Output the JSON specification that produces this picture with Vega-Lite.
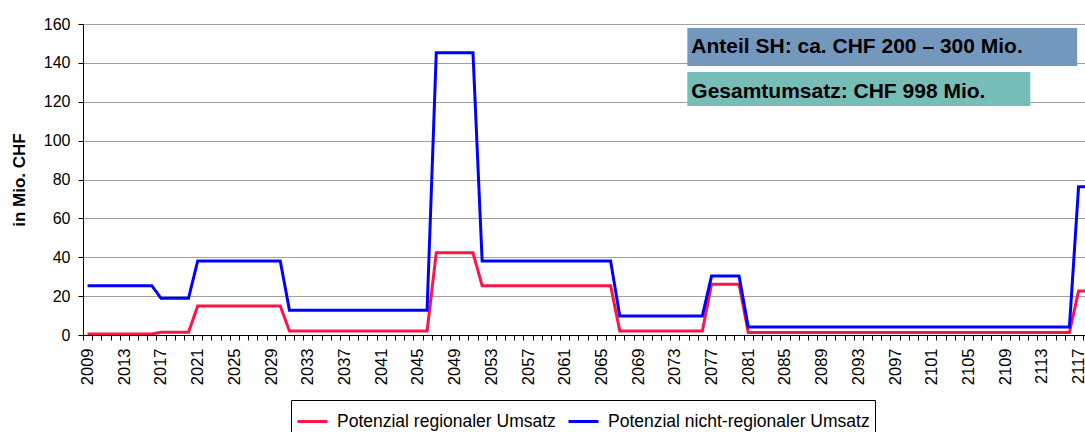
{
  "$schema": "https://vega.github.io/schema/vega-lite/v6.json",
  "width": 1002,
  "height": 311,
  "autosize": "none",
  "padding": {"left": 83, "top": 24, "right": 0, "bottom": 97},
  "background": "white",
  "config": {"view": {"stroke": null}, "font": "Liberation Sans"},
  "datasets": {
    "umsatz": [
      {"Jahr": 2009, "r": 0.5, "n": 25.4}, {"Jahr": 2010, "r": 0.5, "n": 25.4}, {"Jahr": 2011, "r": 0.5, "n": 25.4}, {"Jahr": 2012, "r": 0.5, "n": 25.4},
      {"Jahr": 2013, "r": 0.5, "n": 25.4}, {"Jahr": 2014, "r": 0.5, "n": 25.4}, {"Jahr": 2015, "r": 0.5, "n": 25.4}, {"Jahr": 2016, "r": 0.5, "n": 25.4},
      {"Jahr": 2017, "r": 1.4, "n": 18.9}, {"Jahr": 2018, "r": 1.4, "n": 18.9}, {"Jahr": 2019, "r": 1.4, "n": 18.9}, {"Jahr": 2020, "r": 1.4, "n": 18.9},
      {"Jahr": 2021, "r": 14.9, "n": 38.1}, {"Jahr": 2022, "r": 14.9, "n": 38.1}, {"Jahr": 2023, "r": 14.9, "n": 38.1}, {"Jahr": 2024, "r": 14.9, "n": 38.1},
      {"Jahr": 2025, "r": 14.9, "n": 38.1}, {"Jahr": 2026, "r": 14.9, "n": 38.1}, {"Jahr": 2027, "r": 14.9, "n": 38.1}, {"Jahr": 2028, "r": 14.9, "n": 38.1},
      {"Jahr": 2029, "r": 14.9, "n": 38.1}, {"Jahr": 2030, "r": 14.9, "n": 38.1},
      {"Jahr": 2031, "r": 2.1, "n": 12.7}, {"Jahr": 2032, "r": 2.1, "n": 12.7}, {"Jahr": 2033, "r": 2.1, "n": 12.7}, {"Jahr": 2034, "r": 2.1, "n": 12.7},
      {"Jahr": 2035, "r": 2.1, "n": 12.7}, {"Jahr": 2036, "r": 2.1, "n": 12.7}, {"Jahr": 2037, "r": 2.1, "n": 12.7}, {"Jahr": 2038, "r": 2.1, "n": 12.7},
      {"Jahr": 2039, "r": 2.1, "n": 12.7}, {"Jahr": 2040, "r": 2.1, "n": 12.7}, {"Jahr": 2041, "r": 2.1, "n": 12.7}, {"Jahr": 2042, "r": 2.1, "n": 12.7},
      {"Jahr": 2043, "r": 2.1, "n": 12.7}, {"Jahr": 2044, "r": 2.1, "n": 12.7}, {"Jahr": 2045, "r": 2.1, "n": 12.7}, {"Jahr": 2046, "r": 2.1, "n": 12.7},
      {"Jahr": 2047, "r": 42.3, "n": 145.2}, {"Jahr": 2048, "r": 42.3, "n": 145.2}, {"Jahr": 2049, "r": 42.3, "n": 145.2}, {"Jahr": 2050, "r": 42.3, "n": 145.2},
      {"Jahr": 2051, "r": 42.3, "n": 145.2},
      {"Jahr": 2052, "r": 25.4, "n": 38.1}, {"Jahr": 2053, "r": 25.4, "n": 38.1}, {"Jahr": 2054, "r": 25.4, "n": 38.1}, {"Jahr": 2055, "r": 25.4, "n": 38.1},
      {"Jahr": 2056, "r": 25.4, "n": 38.1}, {"Jahr": 2057, "r": 25.4, "n": 38.1}, {"Jahr": 2058, "r": 25.4, "n": 38.1}, {"Jahr": 2059, "r": 25.4, "n": 38.1},
      {"Jahr": 2060, "r": 25.4, "n": 38.1}, {"Jahr": 2061, "r": 25.4, "n": 38.1}, {"Jahr": 2062, "r": 25.4, "n": 38.1}, {"Jahr": 2063, "r": 25.4, "n": 38.1},
      {"Jahr": 2064, "r": 25.4, "n": 38.1}, {"Jahr": 2065, "r": 25.4, "n": 38.1}, {"Jahr": 2066, "r": 25.4, "n": 38.1},
      {"Jahr": 2067, "r": 2.1, "n": 9.8}, {"Jahr": 2068, "r": 2.1, "n": 9.8}, {"Jahr": 2069, "r": 2.1, "n": 9.8}, {"Jahr": 2070, "r": 2.1, "n": 9.8},
      {"Jahr": 2071, "r": 2.1, "n": 9.8}, {"Jahr": 2072, "r": 2.1, "n": 9.8}, {"Jahr": 2073, "r": 2.1, "n": 9.8}, {"Jahr": 2074, "r": 2.1, "n": 9.8},
      {"Jahr": 2075, "r": 2.1, "n": 9.8}, {"Jahr": 2076, "r": 2.1, "n": 9.8},
      {"Jahr": 2077, "r": 26.1, "n": 30.3}, {"Jahr": 2078, "r": 26.1, "n": 30.3}, {"Jahr": 2079, "r": 26.1, "n": 30.3}, {"Jahr": 2080, "r": 26.1, "n": 30.3},
      {"Jahr": 2081, "r": 1.3, "n": 4.1}, {"Jahr": 2082, "r": 1.3, "n": 4.1}, {"Jahr": 2083, "r": 1.3, "n": 4.1}, {"Jahr": 2084, "r": 1.3, "n": 4.1},
      {"Jahr": 2085, "r": 1.3, "n": 4.1}, {"Jahr": 2086, "r": 1.3, "n": 4.1}, {"Jahr": 2087, "r": 1.3, "n": 4.1}, {"Jahr": 2088, "r": 1.3, "n": 4.1},
      {"Jahr": 2089, "r": 1.3, "n": 4.1}, {"Jahr": 2090, "r": 1.3, "n": 4.1}, {"Jahr": 2091, "r": 1.3, "n": 4.1}, {"Jahr": 2092, "r": 1.3, "n": 4.1},
      {"Jahr": 2093, "r": 1.3, "n": 4.1}, {"Jahr": 2094, "r": 1.3, "n": 4.1}, {"Jahr": 2095, "r": 1.3, "n": 4.1}, {"Jahr": 2096, "r": 1.3, "n": 4.1},
      {"Jahr": 2097, "r": 1.3, "n": 4.1}, {"Jahr": 2098, "r": 1.3, "n": 4.1}, {"Jahr": 2099, "r": 1.3, "n": 4.1}, {"Jahr": 2100, "r": 1.3, "n": 4.1},
      {"Jahr": 2101, "r": 1.3, "n": 4.1}, {"Jahr": 2102, "r": 1.3, "n": 4.1}, {"Jahr": 2103, "r": 1.3, "n": 4.1}, {"Jahr": 2104, "r": 1.3, "n": 4.1},
      {"Jahr": 2105, "r": 1.3, "n": 4.1}, {"Jahr": 2106, "r": 1.3, "n": 4.1}, {"Jahr": 2107, "r": 1.3, "n": 4.1}, {"Jahr": 2108, "r": 1.3, "n": 4.1},
      {"Jahr": 2109, "r": 1.3, "n": 4.1}, {"Jahr": 2110, "r": 1.3, "n": 4.1}, {"Jahr": 2111, "r": 1.3, "n": 4.1}, {"Jahr": 2112, "r": 1.3, "n": 4.1},
      {"Jahr": 2113, "r": 1.3, "n": 4.1}, {"Jahr": 2114, "r": 1.3, "n": 4.1}, {"Jahr": 2115, "r": 1.3, "n": 4.1}, {"Jahr": 2116, "r": 1.3, "n": 4.1},
      {"Jahr": 2117, "r": 22.6, "n": 76.3}, {"Jahr": 2118, "r": 22.6, "n": 76.3}
    ],
    "boxes": [
      {"label": "Anteil SH: ca. CHF 200 – 300 Mio.", "x0": 2074.36, "x1": 2116.85, "y0": 138.4, "y1": 157.9, "ym": 148.3},
      {"label": "Gesamtumsatz: CHF 998 Mio.", "x0": 2074.36, "x1": 2111.74, "y0": 117.8, "y1": 135.3, "ym": 125.2}
    ]
  },
  "resolve": {"axis": {"x": "independent", "y": "independent"}},
  "layer": [
    {
      "data": {"name": "umsatz"},
      "transform": [{"fold": ["r", "n"], "as": ["Reihe", "Wert"]}],
      "mark": {"type": "line", "strokeWidth": 3, "clip": true},
      "encoding": {
        "x": {
          "field": "Jahr", "type": "quantitative",
          "scale": {"domain": [2008.5, 2117.7], "nice": false, "zero": false},
          "axis": {
            "title": null,
            "orient": "bottom",
            "values": [2008.5, 2009.5, 2010.5, 2011.5, 2012.5, 2013.5, 2014.5, 2015.5, 2016.5, 2017.5, 2018.5, 2019.5, 2020.5, 2021.5, 2022.5, 2023.5, 2024.5, 2025.5, 2026.5, 2027.5, 2028.5, 2029.5, 2030.5, 2031.5, 2032.5, 2033.5, 2034.5, 2035.5, 2036.5, 2037.5, 2038.5, 2039.5, 2040.5, 2041.5, 2042.5, 2043.5, 2044.5, 2045.5, 2046.5, 2047.5, 2048.5, 2049.5, 2050.5, 2051.5, 2052.5, 2053.5, 2054.5, 2055.5, 2056.5, 2057.5, 2058.5, 2059.5, 2060.5, 2061.5, 2062.5, 2063.5, 2064.5, 2065.5, 2066.5, 2067.5, 2068.5, 2069.5, 2070.5, 2071.5, 2072.5, 2073.5, 2074.5, 2075.5, 2076.5, 2077.5, 2078.5, 2079.5, 2080.5, 2081.5, 2082.5, 2083.5, 2084.5, 2085.5, 2086.5, 2087.5, 2088.5, 2089.5, 2090.5, 2091.5, 2092.5, 2093.5, 2094.5, 2095.5, 2096.5, 2097.5, 2098.5, 2099.5, 2100.5, 2101.5, 2102.5, 2103.5, 2104.5, 2105.5, 2106.5, 2107.5, 2108.5, 2109.5, 2110.5, 2111.5, 2112.5, 2113.5, 2114.5, 2115.5, 2116.5, 2117.5],
            "labelExpr": "(datum.value + 0.5 - 2009) % 4 == 0 ? format(datum.value + 0.5, 'd') : ''",
            "labelOffset": 4.59,
            "labelAngle": -90,
            "labelFont": "Liberation Sans",
            "labelFontSize": 16.5,
            "labelColor": "black",
            "labelPadding": 8,
            "labelOverlap": false,
            "labelFlush": false,
            "labelBound": false,
            "tickSize": 5,
            "tickColor": "black",
            "domainColor": "black",
            "grid": false
          }
        },
        "y": {
          "field": "Wert", "type": "quantitative",
          "scale": {"domain": [0, 160], "nice": false},
          "axis": {
            "title": "in Mio. CHF",
            "orient": "left",
            "titleFont": "Liberation Sans",
            "titleFontSize": 17,
            "titleFontWeight": "bold",
            "titleColor": "black",
            "titlePadding": 15,
            "values": [0, 20, 40, 60, 80, 100, 120, 140, 160],
            "labelFont": "Liberation Sans",
            "labelFontSize": 16,
            "labelColor": "black",
            "labelPadding": 8,
            "labelOverlap": false,
            "tickSize": 5,
            "tickColor": "black",
            "domainColor": "black",
            "grid": true,
            "gridColor": "#A0A0A0"
          }
        },
        "color": {
          "field": "Reihe", "type": "nominal",
          "scale": {"domain": ["r", "n"], "range": ["#FF1447", "#0000FF"]},
          "legend": {
            "orient": "none",
            "legendX": 208,
            "legendY": 376,
            "direction": "horizontal",
            "title": null,
            "strokeColor": "black",
            "fillColor": "white",
            "padding": 5,
            "symbolType": "stroke",
            "symbolSize": 900,
            "symbolStrokeWidth": 3,
            "labelFont": "Liberation Sans",
            "labelFontSize": 17.5,
            "labelColor": "black",
            "labelOffset": 8,
            "labelLimit": 500,
            "columnPadding": 6,
            "labelExpr": "datum.label == 'r' ? 'Potenzial regionaler Umsatz' : 'Potenzial nicht-regionaler Umsatz'"
          }
        }
      }
    },
    {
      "data": {"name": "boxes"},
      "mark": {"type": "rect"},
      "encoding": {
        "x": {"field": "x0", "type": "quantitative", "axis": null},
        "x2": {"field": "x1"},
        "y": {"field": "y0", "type": "quantitative", "axis": null},
        "y2": {"field": "y1"},
        "fill": {"field": "label", "type": "nominal", "scale": {"domain": ["Anteil SH: ca. CHF 200 – 300 Mio.", "Gesamtumsatz: CHF 998 Mio."], "range": ["#7498BD", "#76BDB8"]}, "legend": null}
      }
    },
    {
      "data": {"name": "boxes"},
      "mark": {"type": "text", "align": "left", "baseline": "middle", "dx": 4, "font": "Liberation Sans", "fontSize": 21, "fontWeight": "bold", "color": "black"},
      "encoding": {
        "x": {"field": "x0", "type": "quantitative", "axis": null},
        "y": {"field": "ym", "type": "quantitative", "axis": null},
        "text": {"field": "label"}
      }
    }
  ]
}
